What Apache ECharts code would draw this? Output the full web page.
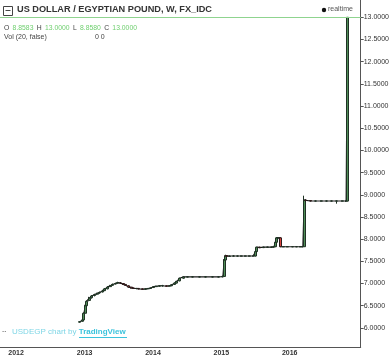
<!DOCTYPE html>
<html><head><meta charset="utf-8">
<script src="https://cdn.jsdelivr.net/npm/echarts@6/dist/echarts.min.js"></script>
<style>html,body{margin:0;padding:0;background:#fff}#c{width:392px;height:360px}</style>
</head><body><div id="c"></div>
<script>
// Weekly candles (sampled), USD/EGP, FX_IDC
const dates = [
 '2012-12-07','2012-12-21','2012-12-28','2013-01-04','2013-01-11','2013-01-25','2013-02-08','2013-02-22',
 '2013-03-08','2013-03-22','2013-04-05','2013-04-19','2013-05-03','2013-05-17','2013-05-31','2013-06-14',
 '2013-06-28','2013-07-12','2013-07-26','2013-08-09','2013-08-23','2013-09-06','2013-09-20','2013-10-04',
 '2013-10-18','2013-11-08','2013-11-22','2013-12-06','2013-12-20','2014-01-03','2014-01-17','2014-02-07',
 '2014-02-21','2014-03-14','2014-03-28','2014-04-11','2014-04-25','2014-05-09','2014-05-23','2014-06-13',
 '2014-07-04','2014-08-01','2014-09-05','2014-10-10','2014-11-14','2014-12-19','2015-01-09','2015-01-16',
 '2015-01-23','2015-01-30','2015-02-13','2015-03-06','2015-03-27','2015-04-17','2015-05-08','2015-05-29',
 '2015-06-19','2015-07-03','2015-07-10','2015-07-24','2015-08-14','2015-09-04','2015-09-25','2015-10-09',
 '2015-10-16','2015-10-23','2015-10-30','2015-11-06','2015-11-13','2015-11-27','2015-12-18','2016-01-15',
 '2016-02-05','2016-02-26','2016-03-11','2016-03-18','2016-03-25','2016-04-22','2016-05-20','2016-06-17',
 '2016-07-15','2016-08-12','2016-09-09','2016-10-07','2016-10-28','2016-11-04'
];
const opens = [
 6.13,6.15,6.18,6.33,6.50,6.62,6.68,6.73, 6.76,6.79,6.81,6.84,6.88,6.93,6.96,6.99,
 7.01,7.01,7.00,6.98,6.95,6.92,6.90,6.89, 6.89,6.88,6.87,6.88,6.89,6.91,6.93,6.94,
 6.95,6.95,6.94,6.95,6.98,7.01,7.06,7.12, 7.15,7.15,7.15,7.15,7.15,7.15,7.15,7.16,
 7.53,7.63,7.61,7.62,7.62,7.62,7.62,7.62, 7.62,7.62,7.72,7.82,7.81,7.82,7.82,7.82,
 7.83,7.93,8.03,8.03,8.03,7.83,7.83,7.83, 7.83,7.83,7.83,7.83,8.88,8.87,8.86,8.86,
 8.86,8.86,8.86,8.86,8.86,8.8583
];
const closes = [
 6.14,6.18,6.33,6.50,6.60,6.67,6.72,6.75, 6.78,6.80,6.83,6.88,6.92,6.95,6.98,7.00,
 7.02,7.01,6.98,6.96,6.92,6.90,6.89,6.89, 6.88,6.87,6.88,6.89,6.90,6.93,6.94,6.95,
 6.95,6.94,6.95,6.97,7.01,7.05,7.12,7.15, 7.15,7.15,7.15,7.15,7.15,7.15,7.16,7.53,
 7.63,7.61,7.62,7.62,7.62,7.62,7.62,7.62, 7.62,7.72,7.82,7.81,7.82,7.82,7.82,7.83,
 7.93,8.03,8.03,8.03,7.83,7.83,7.83,7.83, 7.83,7.83,7.83,8.88,8.87,8.86,8.86,8.86,
 8.86,8.86,8.86,8.86,8.86,13.0
];
const lows = [
 6.12,6.14,6.18,6.32,6.49,6.60,6.66,6.71, 6.74,6.77,6.80,6.83,6.87,6.92,6.95,6.98,
 7.00,6.99,6.97,6.95,6.91,6.89,6.88,6.87, 6.87,6.86,6.86,6.87,6.88,6.90,6.92,6.93,
 6.93,6.93,6.93,6.94,6.97,7.00,7.05,7.11, 7.14,7.14,7.14,7.14,7.14,7.14,7.14,7.16,
 7.52,7.60,7.60,7.61,7.61,7.61,7.61,7.61, 7.61,7.61,7.71,7.80,7.80,7.81,7.81,7.81,
 7.82,7.92,8.02,8.02,7.82,7.82,7.82,7.82, 7.82,7.82,7.82,7.83,8.85,8.85,8.85,8.85,
 8.85,8.85,8.80,8.85,8.84,8.858
];
const highs = [
 6.15,6.19,6.35,6.52,6.62,6.70,6.74,6.77, 6.79,6.82,6.86,6.90,6.94,6.97,7.00,7.02,
 7.04,7.03,7.01,6.99,6.96,6.93,6.91,6.90, 6.90,6.89,6.89,6.90,6.91,6.94,6.95,6.96,
 6.97,6.96,6.96,6.98,7.02,7.06,7.13,7.16, 7.16,7.16,7.16,7.16,7.16,7.16,7.18,7.55,
 7.65,7.64,7.63,7.64,7.63,7.63,7.63,7.63, 7.63,7.73,7.83,7.83,7.83,7.83,7.83,7.84,
 7.94,8.04,8.04,8.04,8.04,7.84,7.84,7.84, 7.84,7.84,7.84,8.98,8.90,8.87,8.87,8.87,
 8.87,8.87,8.87,8.87,8.87,13.0
];
const priceTicks = [6.0,6.5,7.0,7.5,8.0,8.5,9.0,9.5,10.0,10.5,11.0,11.5,12.0,12.5,13.0];
const yearTicks = ['2012-01-01','2013-01-01','2014-01-01','2015-01-01','2016-01-01'];
const lastPrice = 13.0;
const ohlcText = {O:'8.8583', H:'13.0000', L:'8.8580', C:'13.0000'};

const ts = d => new Date(d + 'T00:00:00Z').getTime();
const candleData = dates.map((d,i)=>[ts(d), opens[i], closes[i], lows[i], highs[i]]);
const lineData = dates.map((d,i)=>[ts(d), closes[i]]);

const chart = echarts.init(document.getElementById('c'), null, {renderer:'canvas'});
const FONT = '"Liberation Sans", Arial, sans-serif';
chart.setOption({
  animation:false,
  backgroundColor:'#ffffff',
  grid:{left:0,right:31,top:0,bottom:13,containLabel:false},
  xAxis:{
    type:'value', min:ts('2011-10-07'), max:ts('2017-01-14'),
    axisLine:{show:true,lineStyle:{color:'#555',width:1}},
    axisTick:{show:false},
    splitLine:{show:false},
    axisLabel:{customValues:yearTicks.map(ts), formatter:v=>String(new Date(v).getUTCFullYear()),
      fontSize:7, fontWeight:'bold', color:'#333', fontFamily:FONT, margin:3}
  },
  yAxis:{
    type:'value', position:'right', min:5.57, max:13.39,
    axisLine:{show:true,lineStyle:{color:'#555',width:1}},
    axisTick:{show:true, customValues:priceTicks, length:3, lineStyle:{color:'#555'}},
    splitLine:{show:false},
    axisLabel:{customValues:priceTicks, formatter:v=>v.toFixed(4), fontSize:7, color:'#333', fontFamily:FONT, margin:3}
  },
  series:[
    {type:'line', data:lineData, showSymbol:false, symbol:'none',
     lineStyle:{color:'#1a1a1a',width:1.1}, z:2,
     markLine:{silent:true, symbol:'none', label:{show:false},
       lineStyle:{color:'#8fd48f',width:1,type:'solid'}, data:[{yAxis:lastPrice}]}},
    {type:'candlestick', data:candleData, barWidth:2.5, z:3,
     itemStyle:{color:'#4f8d57', color0:'#d9443f', borderColor:'#1f3224', borderColor0:'#2a1a1a', borderWidth:1}}
  ],
  graphic:[
    {type:'rect', left:3, top:6, shape:{width:9,height:9}, style:{fill:'#fff',stroke:'#444',lineWidth:1}},
    {type:'line', shape:{x1:5.5,y1:10.5,x2:10.5,y2:10.5}, style:{stroke:'#444',lineWidth:1}},
    {type:'text', left:17, top:5, style:{text:'US DOLLAR / EGYPTIAN POUND, W, FX_IDC', font:'bold 9.2px '+FONT, fill:'#333'}},
    {type:'text', left:4, top:22, style:{
      text:'{k|O} {v|'+ohlcText.O+'} {k|H} {v|'+ohlcText.H+'} {k|L} {v|'+ohlcText.L+'} {k|C} {v|'+ohlcText.C+'}',
      rich:{k:{fontSize:6.8,fontFamily:FONT,fill:'#444',color:'#444'}, v:{fontSize:6.8,fontFamily:FONT,fill:'#6fcf6f',color:'#6fcf6f'}}}},
    {type:'text', left:4, top:34, style:{text:'Vol (20, false)', font:'7px '+FONT, fill:'#444'}},
    {type:'text', left:95, top:34, style:{text:'0 0', font:'7px '+FONT, fill:'#444'}},
    {type:'circle', shape:{cx:324,cy:10,r:2.2}, style:{fill:'#111'}},
    {type:'text', left:328, top:6, style:{text:'realtime', font:'7px '+FONT, fill:'#555'}},
    {type:'text', left:2, top:326, style:{text:'‥', font:'8px '+FONT, fill:'#333'}},
    {type:'text', left:12, top:328, style:{
      text:'{a|USDEGP chart by }{b|TradingView}',
      rich:{a:{fontSize:8,fontFamily:FONT,fill:'#7fd6e6',color:'#7fd6e6'}, b:{fontSize:8,fontWeight:'bold',fontFamily:FONT,fill:'#3cc3dc',color:'#3cc3dc'}}}},
    {type:'line', shape:{x1:79,y1:337.5,x2:127,y2:337.5}, style:{stroke:'#3cc3dc',lineWidth:1}}
  ]
});
</script></body></html>
